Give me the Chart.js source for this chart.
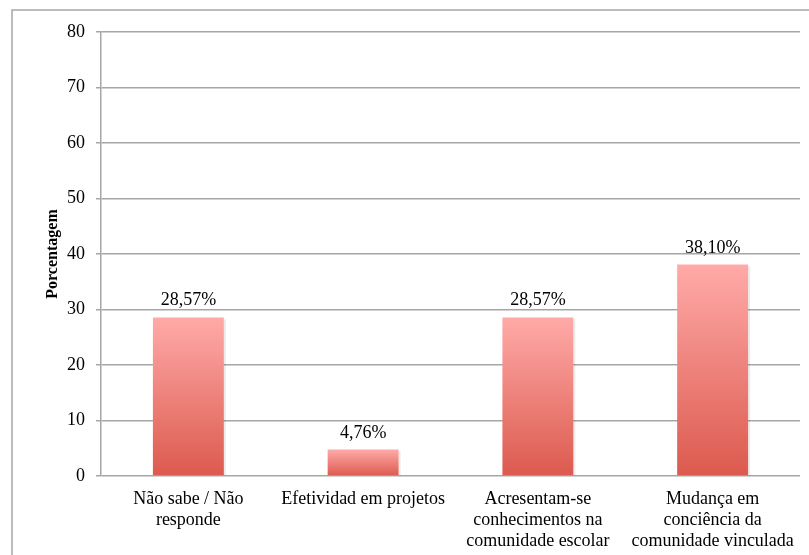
<!DOCTYPE html>
<html>
<head>
<meta charset="utf-8">
<script src="https://cdn.jsdelivr.net/npm/chart.js@4/dist/chart.umd.min.js"></script>
<style>
  html, body { margin: 0; padding: 0; background: #fff; }
  #wrap { width: 809px; height: 555px; }
</style>
</head>
<body>
<div id="wrap"><canvas id="chart" width="809" height="555"></canvas></div>
<script>
const categories = [
  ["Não sabe / Não", "responde"],
  ["Efetividad em projetos"],
  ["Acresentam-se", "conhecimentos na", "comunidade escolar"],
  ["Mudança em", "conciência da", "comunidade vinculada"],
];
const percentages = [28.57, 4.76, 28.57, 38.1];
const valueLabels = ["28,57%", "4,76%", "28,57%", "38,10%"];
const yTicks = [0, 10, 20, 30, 40, 50, 60, 70, 80];

const serif = "'Liberation Serif', 'Times New Roman', serif";

// gray frame around the chart, and the value text above each bar
const framePlugin = {
  id: "frame",
  beforeDraw: (chart) => {
    const ctx = chart.ctx;
    ctx.save();
    ctx.strokeStyle = "#a6a6a6";
    ctx.lineWidth = 1.5;
    ctx.strokeRect(12, 10, 900, 700);
    ctx.restore();
  },
  beforeDatasetsDraw: (chart) => {
    // soft shadow on the right of each bar
    const ctx = chart.ctx;
    const meta = chart.getDatasetMeta(0);
    ctx.save();
    ctx.fillStyle = "rgba(0,0,0,0.08)";
    meta.data.forEach((bar) => {
      ctx.fillRect(bar.x + bar.width / 2, bar.y + 2, 2, bar.base - bar.y - 2);
    });
    ctx.restore();
  },
  afterDatasetsDraw: (chart) => {
    const ctx = chart.ctx;
    const meta = chart.getDatasetMeta(0);
    ctx.save();
    ctx.font = "18px " + serif;
    ctx.fillStyle = "#000";
    ctx.textAlign = "center";
    ctx.textBaseline = "alphabetic";
    meta.data.forEach((bar, i) => {
      ctx.fillText(valueLabels[i], bar.x, bar.y - 12);
    });
    ctx.restore();
  },
};

const barGradient = (context) => {
  const chart = context.chart;
  if (!chart.chartArea || !chart.scales.y) return "#ec7a72";
  const y = chart.scales.y;
  const top = y.getPixelForValue(context.raw);
  const bottom = y.getPixelForValue(0);
  const g = chart.ctx.createLinearGradient(0, top, 0, bottom);
  g.addColorStop(0, "#ffaaa8");
  g.addColorStop(1, "#dc5a4e");
  return g;
};

new Chart(document.getElementById("chart"), {
  type: "bar",
  data: {
    labels: categories,
    datasets: [
      {
        data: percentages,
        backgroundColor: barGradient,
        borderWidth: 0,
        categoryPercentage: 1,
        barPercentage: 0.406,
      },
    ],
  },
  options: {
    responsive: false,
    animation: false,
    layout: {
      padding: { left: 12, right: 9, top: 32, bottom: 0 },
    },
    plugins: {
      legend: { display: false },
      tooltip: { enabled: false },
    },
    scales: {
      x: {
        grid: { display: false },
        border: { display: false },
        ticks: {
          color: "#000",
          padding: 5,
          maxRotation: 0,
          autoSkip: false,
          font: { family: serif, size: 18, lineHeight: 1.17 },
        },
        afterFit: (scale) => {
          scale.height = 79;
        },
      },
      y: {
        min: 0,
        max: 80,
        afterBuildTicks: (scale) => {
          scale.ticks = yTicks.map((v) => ({ value: v }));
        },
        grid: {
          color: "#a6a6a6",
          lineWidth: 1.5,
          tickLength: 5,
        },
        border: { color: "#a6a6a6", width: 1.5 },
        ticks: {
          color: "#000",
          padding: 11,
          font: { family: serif, size: 18 },
        },
        title: {
          display: true,
          text: "Porcentagem",
          color: "#000",
          padding: { top: 31, bottom: 0 },
          font: { family: serif, size: 16, weight: "bold" },
        },
        afterFit: (scale) => {
          scale.width = 89;
        },
      },
    },
  },
  plugins: [framePlugin],
});
</script>
</body>
</html>
